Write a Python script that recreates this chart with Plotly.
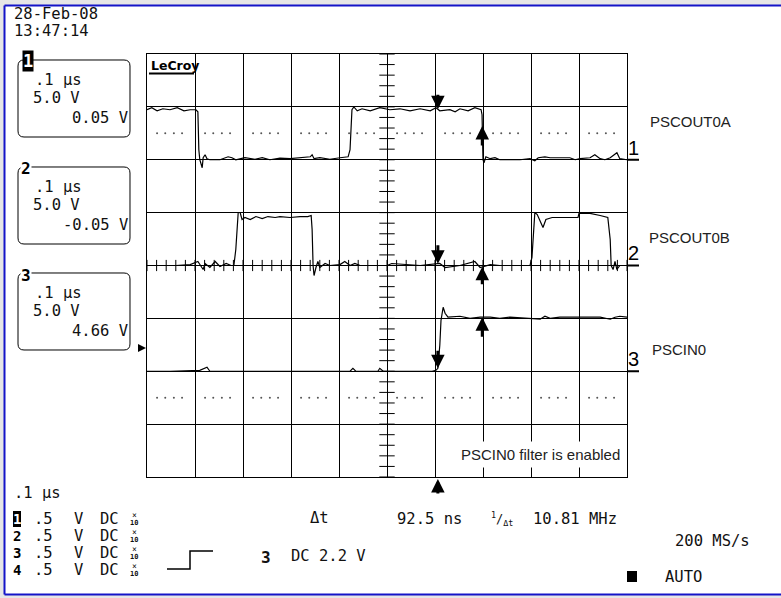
import numpy as np
import plotly.graph_objects as go

# ---------------- data (time in ns, voltage in V) ----------------
ch1_t = [-500, -490, -479, -467, -452, -437, -423, -410, -398, -394, -392, -390, -385, -383, -379, -375,
         -369, -348, -331, -323, -315, -296, -275, -260, -244, -223, -202, -181, -160, -156, -152, -140,
         -119, -98, -81, -77, -73, -69, -62, -52, -35, -15, 6, 27, 48, 69, 90, 102, 110, 131, 142, 152,
         169, 183, 196, 198, 200, 202, 206, 215, 225, 235, 256, 277, 298, 308, 315, 329, 340, 360, 381,
         392, 402, 423, 433, 444, 454, 465, 479, 485, 500]
ch1_v = [4.73, 4.92, 4.63, 4.82, 4.73, 4.92, 4.63, 4.73, 4.73, 4.54, 0.95, 0.0, -0.76, 0.19, 0.47, 0.1,
         0.0, 0.0, 0.28, 0.19, 0.0, 0.2, 0.05, 0.2, 0.0, 0.15, 0.1, 0.2, 0.28, 0.47, 0.1, 0.2,
         0.05, 0.19, 0.28, 0.95, 4.73, 5.0, 4.63, 4.82, 4.63, 4.92, 4.73, 4.82, 4.63, 4.82, 4.63, 4.92,
         4.63, 4.73, 4.54, 4.82, 4.63, 4.92, 4.73, 4.26, 0.0, -0.28, 0.28, 0.1, 0.19, 0.0, 0.0, 0.0,
         0.1, -0.1, 0.19, 0.28, 0.19, 0.19, 0.19, 0.0, 0.1, 0.19, 0.47, 0.1, 0.0, 0.19, 0.66, 0.1, 0.0]

ch2_t = [-500, -440, -410, -394, -383, -379, -369, -358, -348, -335, -325, -319, -315, -313, -310, -306,
         -302, -296, -285, -273, -260, -248, -233, -223, -202, -181, -165, -158, -156, -154, -152, -148,
         -144, -140, -129, -119, -98, -88, -77, -67, -56, 0, 10, 69, 110, 121, 152, 183, 194, 215, 235,
         277, 298, 302, 306, 308, 313, 319, 325, 331, 344, 360, 381, 398, 400, 423, 444, 460, 465, 467,
         471, 475, 479, 485, 500]
ch2_v = [0.0, 0.0, 0.09, 0.38, -0.38, 0.19, -0.19, 0.38, -0.09, 0.19, 0.0, 0.0, 1.51, 3.4, 5.01, 5.01,
         4.35, 4.54, 4.35, 4.63, 4.44, 4.63, 4.54, 4.63, 4.54, 4.63, 4.63, 4.73, 3.4, 0.0, -0.95, -0.19,
         0.38, -0.19, 0.19, 0.0, 0.09, 0.38, 0.0, 0.19, 0.0, 0.0, 0.19, 0.0, 0.19, -0.19, 0.0, 0.38, -0.19,
         0.09, 0.0, 0.0, 0.0, 0.76, 3.88, 5.01, 4.82, 4.16, 3.59, 4.35, 4.54, 4.54, 4.54, 4.54, 4.92, 4.92,
         4.73, 4.54, 2.46, 0.0, -0.38, 0.38, -0.38, 0.0, 0.0]

ch3_t = [-500, -452, -390, -375, -369, -285, -181, -77, -71, -65, -19, -15, -8, 69, 94, 102, 106, 110,
         112.5, 117, 121, 127, 152, 173, 194, 215, 235, 256, 319, 329, 340, 360, 402, 444, 465, 475, 485, 500]
ch3_v = [0.0, 0.0, 0.09, 0.38, 0.0, 0.0, 0.0, 0.0, 0.28, 0.0, 0.0, 0.28, 0.0, 0.0, 0.0, 0.09, 0.28, 2.46,
         4.82, 6.05, 5.48, 5.11, 5.2, 5.01, 5.11, 5.11, 5.01, 5.11, 4.92, 5.2, 5.01, 5.11, 5.11, 5.11, 4.92,
         5.11, 5.2, 5.11]

channel_names = ["PSCOUT0A", "PSCOUT0B", "PSCIN0"]
channel_offsets_div = [2, 0, -2]
volts_per_div = 5.0
cursor1_ns = 106.0
delta_t_ns = 92.5
trigger_level_v = 2.2

box_values = [[".1 µs", "5.0 V", "0.05 V"], [".1 µs", "5.0 V", "-0.05 V"], [".1 µs", "5.0 V", "4.66 V"]]

# ---------------- layout helpers ----------------
W, H = 781, 598
MONO = "DejaVu Sans Mono"
SANS = "Liberation Sans"


def px(x):
    return x / W


def py(y):
    return 1 - y / H


annotations = []
shapes = []


def txt(x, y, s, size=15.5, anchor="left", family=MONO, color="#111", bold=False, **kw):
    if bold:
        s = "<b>" + s + "</b>"
    d = dict(x=px(x), y=py(y), xref="paper", yref="paper", text=s, showarrow=False,
             xanchor=anchor, yanchor="middle", font=dict(family=family, size=size, color=color))
    d.update(kw)
    annotations.append(d)


def rrect(x0, y0, x1, y1, r):
    p = lambda x, y: f"{px(x):.5f},{py(y):.5f}"
    return (f"M{p(x0 + r, y0)} L{p(x1 - r, y0)} Q{p(x1, y0)} {p(x1, y0 + r)} "
            f"L{p(x1, y1 - r)} Q{p(x1, y1)} {p(x1 - r, y1)} L{p(x0 + r, y1)} "
            f"Q{p(x0, y1)} {p(x0, y1 - r)} L{p(x0, y0 + r)} Q{p(x0, y0)} {p(x0 + r, y0)} Z")


fig = go.Figure()

# background / frame (left, top, bottom edges only are visible)
shapes.append(dict(type="rect", xref="paper", yref="paper", x0=px(4.5), x1=1, y0=py(594.5), y1=py(5.5),
                   line=dict(width=0), fillcolor="white", layer="below"))
FRAME = "#1414c8"
for (xa, ya, xb, yb) in [(4.5, 5.5, 781, 5.5), (4.5, 5.5, 4.5, 594.5), (4.5, 594.5, 781, 594.5)]:
    shapes.append(dict(type="line", xref="paper", yref="paper", x0=px(xa), y0=py(ya), x1=px(xb), y1=py(yb),
                       line=dict(color=FRAME, width=2)))

# graticule minor ticks along center axes
tick_x = np.arange(-500, 501, 20)
tick_y = np.arange(-4, 4.001, 0.2)
fig.add_trace(go.Scatter(x=tick_x, y=np.zeros_like(tick_x), mode="markers", hoverinfo="skip",
                         marker=dict(symbol="line-ns", size=8, line=dict(color="black", width=1))))
fig.add_trace(go.Scatter(x=np.zeros_like(tick_y), y=tick_y, mode="markers", hoverinfo="skip",
                         marker=dict(symbol="line-ew", size=11, line=dict(color="black", width=1))))
# dotted reference lines
dot_x = np.array([d + o for d in range(-500, 500, 100) for o in (21, 38, 56, 73)])
for lvl in (2.5, -2.5):
    fig.add_trace(go.Scatter(x=dot_x, y=np.full(dot_x.shape, lvl), mode="markers", hoverinfo="skip",
                             marker=dict(size=2, color="#555")))

# waveforms
for t, v, off in zip([ch1_t, ch2_t, ch3_t], [ch1_v, ch2_v, ch3_v], channel_offsets_div):
    fig.add_trace(go.Scatter(x=t, y=np.array(v) / volts_per_div + off, mode="lines",
                             line=dict(color="black", width=1.2), hoverinfo="skip"))

# cursor arrows
cursor2_ns = cursor1_ns + delta_t_ns
for t, v, off, d1, d2 in zip([ch1_t, ch2_t, ch3_t], [ch1_v, ch2_v, ch3_v], channel_offsets_div,
                             [-16, -20, -19], [21, 19, 21]):
    for c, ay in ((cursor1_ns, d1), (cursor2_ns, d2)):
        lvl = np.interp(c, t, v) / volts_per_div + off
        annotations.append(dict(x=c, y=lvl, xref="x", yref="y", ax=0, ay=ay, text="", showarrow=True,
                                arrowhead=2, arrowsize=0.9, arrowwidth=3, arrowcolor="black"))
annotations.append(dict(x=cursor1_ns, y=py(479), xref="x", yref="paper", ax=0, ay=16, text="",
                        showarrow=True, arrowhead=2, arrowsize=0.9, arrowwidth=3, arrowcolor="black"))
# trigger level marker (left)
annotations.append(dict(x=px(146), y=trigger_level_v / volts_per_div + channel_offsets_div[2], xref="paper",
                        yref="y", ax=-8, ay=0, text="", showarrow=True, arrowhead=2, arrowsize=0.8,
                        arrowwidth=2, arrowcolor="black"))

# right side channel markers and names
for i, (name, off) in enumerate(zip(channel_names, channel_offsets_div)):
    shapes.append(dict(type="line", xref="paper", yref="y", x0=px(627), x1=px(639), y0=off, y1=off,
                       line=dict(color="black", width=2)))
    annotations.append(dict(x=px(633), y=off, xref="paper", yref="y", text=str(i + 1), showarrow=False,
                            xanchor="center", yanchor="bottom", yshift=-1,
                            font=dict(family=SANS, size=20, color="black")))
name_y = [122, 237, 349]
name_x = [648, 647, 650]
for name, x, y in zip(channel_names, name_x, name_y):
    txt(x, y, name, size=15, family=SANS, color="#222")

txt(456, 454, "PSCIN0 filter is enabled", size=15, family=SANS, color="#222", bgcolor="white", borderpad=4)

# LeCroy logo
txt(149, 65, "LeCroy", size=12.5, family="DejaVu Sans", color="black", bold=True)
shapes.append(dict(type="line", xref="paper", yref="paper", x0=px(149), x1=px(194), y0=py(73.5), y1=py(73.5),
                   line=dict(color="black", width=2)))

# date / time
txt(12, 14, "28-Feb-08")
txt(12, 31, "13:47:14")

# channel boxes
box_top = [60, 167, 273]
for i, (vals, top) in enumerate(zip(box_values, box_top)):
    shapes.append(dict(type="path", path=rrect(18, top, 130, top + 77, 6), xref="paper", yref="paper",
                       line=dict(color="black", width=1)))
    txt(33, top + 20, vals[0])
    txt(31, top + 38, vals[1])
    txt(130, top + 58, vals[2], anchor="right")
    if i == 0:
        txt(27.5, top + 1, "1", size=17, anchor="center", color="white", bold=True, bgcolor="black", borderpad=0)
    else:
        txt(26, top + 2, str(i + 1), size=16, anchor="center", color="black", bold=True, bgcolor="white", borderpad=0)

# bottom status
txt(12, 493, ".1 µs")
row_y = [519, 536, 553, 570]
for i, y in enumerate(row_y):
    if i == 0:
        txt(17, y, "1", size=14, anchor="center", color="white", bold=True, bgcolor="black", borderpad=0,
            borderwidth=0)
    else:
        txt(17, y, str(i + 1), size=14, anchor="center", color="black", bold=True, borderpad=0, borderwidth=0)
    txt(32, y, ".5")
    txt(72, y, "V")
    txt(98, y, "DC")
    txt(134, y - 4, "×", size=8, anchor="center")
    txt(134, y + 4, "<b>10</b>", size=7, anchor="center")

# trigger symbol
shapes.append(dict(type="path", xref="paper", yref="paper",
                   path=f"M{px(167)},{py(569)} L{px(190)},{py(569)} L{px(190)},{py(551)} L{px(213)},{py(551)}",
                   line=dict(color="black", width=1.5)))
txt(266, 557, "3", size=16, anchor="center", bold=True)
txt(289, 556, "DC 2.2 V")

txt(308, 518, "Δt")
txt(395, 519, "92.5 ns")
txt(489, 519, "<sup>1</sup>/<sub>Δt</sub>", size=12)
txt(531, 519, "10.81 MHz")
txt(673, 541, "200 MS/s")
shapes.append(dict(type="rect", xref="paper", yref="paper", x0=px(627), x1=px(637), y0=py(582), y1=py(571),
                   fillcolor="black", line=dict(width=0)))
txt(663, 577, "AUTO")

fig.update_layout(
    width=W, height=H, margin=dict(l=0, r=0, t=0, b=0), autosize=False,
    paper_bgcolor="#e6e6e6", plot_bgcolor="white", showlegend=False,
    shapes=shapes, annotations=annotations,
    xaxis=dict(range=[-500, 500], domain=[px(147), px(627)], dtick=100, tick0=0, showgrid=True,
               gridcolor="black", gridwidth=1, showline=True, mirror=True, linecolor="black", linewidth=1,
               zeroline=False, showticklabels=False, ticks=""),
    yaxis=dict(range=[-4, 4], domain=[py(477), py(54)], dtick=1, tick0=0, showgrid=True,
               gridcolor="black", gridwidth=1, showline=True, mirror=True, linecolor="black", linewidth=1,
               zeroline=False, showticklabels=False, ticks=""),
)

fig.write_html("out.html", config={"displayModeBar": False},
               post_script="document.body.style.margin='0px';document.body.style.overflow='hidden';")
